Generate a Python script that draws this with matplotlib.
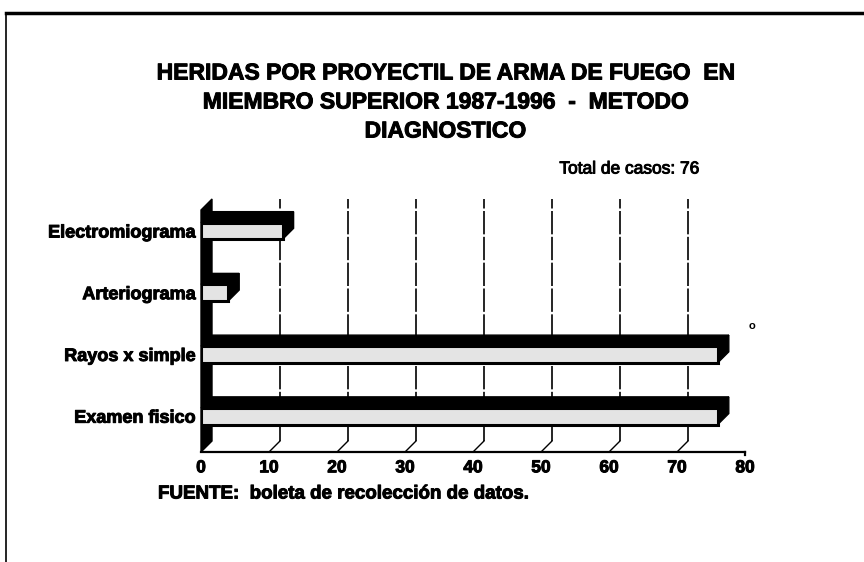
import matplotlib.pyplot as plt
import matplotlib.patheffects as pe
from matplotlib.patches import Polygon

categorias = ['Examen fisico', 'Rayos x simple', 'Arteriograma', 'Electromiograma']
casos = [76, 76, 4, 12]
ticks = [0, 10, 20, 30, 40, 50, 60, 70, 80]

plt.rcParams['font.family'] = ['Liberation Sans', 'DejaVu Sans']

W, H = 864, 562
fig = plt.figure(figsize=(W / 100, H / 100), dpi=100)
ax = fig.add_axes([201 / W, 1 - 452 / H, 544 / W, 242 / H])
y0, y1 = -0.58, 3.34
ax.set_xlim(0, 80)
ax.set_ylim(y0, y1)
for s in ax.spines.values():
    s.set_visible(False)

# depth of the fake 3D effect, pixels -> data units
dx = 11 * 80 / 544
dy = 11 * (y1 - y0) / 242
h = 0.27
ink = [pe.withStroke(linewidth=0.7, foreground='black')]

# back wall gridlines and floor ticks
for t in ticks[1:-1]:
    ax.plot([t + dx, t + dx], [y0 + dy, y1 + dy], color='black', lw=1.2,
            ls=(0, (14, 1.5)), clip_on=False, zorder=1)
    ax.plot([t, t + dx], [y0, y0 + dy], color='black', lw=1, clip_on=False, zorder=1)

# floor front edge
ax.plot([0, 80], [y0, y0], color='black', lw=1.6, clip_on=False, zorder=3)
ax.plot([80, 80], [y0, y0 - 0.05], color='black', lw=1.6, clip_on=False, zorder=3)

# left wall
ax.add_patch(Polygon([(0, y0), (0, y1), (dx, y1 + dy), (dx, y0 + dy)],
                     closed=True, facecolor='black', edgecolor='black', lw=1,
                     clip_on=False, zorder=2))

for i, v in enumerate(casos):
    lo, hi = i - h / 2, i + h / 2
    top = Polygon([(0, hi), (v, hi), (v + dx, hi + dy), (dx, hi + dy)], closed=True,
                  facecolor='black', edgecolor='black', lw=1, clip_on=False, zorder=4)
    side = Polygon([(v, lo), (v, hi), (v + dx, hi + dy), (v + dx, lo + dy)], closed=True,
                   facecolor='black', edgecolor='black', lw=1, clip_on=False, zorder=4)
    ax.add_patch(top)
    ax.add_patch(side)
    ax.barh(i, v, height=h, left=0, color='#e4e4e4', edgecolor='black', lw=2.2, zorder=5)

ax.set_xticks(ticks)
ax.set_xticklabels([str(t) for t in ticks], fontsize=12.5, fontweight='bold')
ax.set_yticks(range(len(categorias)))
ax.set_yticklabels(categorias, fontsize=13, fontweight='bold')
for lab in ax.get_xticklabels() + ax.get_yticklabels():
    lab.set_path_effects(ink)
ax.tick_params(axis='both', length=0)
ax.tick_params(axis='x', pad=6)
ax.tick_params(axis='y', pad=4)

titulo = ['HERIDAS POR PROYECTIL DE ARMA DE FUEGO  EN',
          'MIEMBRO SUPERIOR 1987-1996  -  METODO',
          'DIAGNOSTICO']
for k, linea in enumerate(titulo):
    fig.text(445 / W, 1 - (73 + 29 * k) / H, linea, ha='center', va='center',
             fontsize=16.5, fontweight='bold', path_effects=ink)
fig.text(700 / W, 1 - 169 / H, 'Total de casos: 76', ha='right', va='center',
         fontsize=12.5, path_effects=ink)
fig.text(158 / W, 1 - 494 / H, 'FUENTE:  boleta de recolección de datos.',
         ha='left', va='center', fontsize=13.5, fontweight='bold', path_effects=ink)
fig.text(752 / W, 1 - 326 / H, 'o', ha='center', va='center', fontsize=8, fontweight='bold')

# scanned page border (top and left)
fig.add_artist(plt.Line2D([6 / W, 1], [1 - 13 / H, 1 - 13 / H], color='black', lw=2.5))
fig.add_artist(plt.Line2D([6 / W, 6 / W], [0, 1 - 13 / H], color='black', lw=1.2))

fig.savefig('out.png', dpi=100)
